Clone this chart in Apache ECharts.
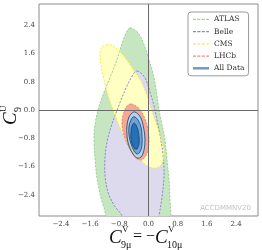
<!DOCTYPE html>
<html><head><meta charset="utf-8">
<script src="https://cdn.jsdelivr.net/npm/echarts@6/dist/echarts.min.js"></script>
<style>html,body{margin:0;padding:0;background:#fff}#c{width:262px;height:250px}</style>
</head><body><div id="c"></div>
<script>
const seriesNames = ['ATLAS', 'Belle', 'CMS', 'LHCb', 'All Data'];
const xTicks = [-2.4, -1.6, -0.8, 0, 0.8, 1.6, 2.4];
const yTicks = [-2.4, -1.6, -0.8, 0, 0.8, 1.6, 2.4];

// contour vertices [C9V=-C10V, C9U]
const ATLAS = [[-0.507,2.321],[-0.370,2.264],[-0.260,2.151],[-0.151,1.925],[-0.041,1.613],[0.041,1.330],[0.123,1.047],[0.178,0.764],[0.233,0.396],[0.288,0.000],[0.370,-0.425],[0.452,-0.849],[0.507,-1.415],[0.562,-1.981],[0.589,-2.547],[0.616,-3.0],[0.616,-3.4],[-1.164,-3.4],[-1.164,-3.0],[-1.301,-2.491],[-1.411,-1.925],[-1.466,-1.359],[-1.493,-0.849],[-1.466,-0.425],[-1.384,0.000],[-1.247,0.425],[-1.082,0.849],[-0.918,1.274],[-0.781,1.698],[-0.671,2.038],[-0.589,2.236]];
const Belle = [[-0.315,1.104],[-0.178,1.019],[-0.068,0.849],[0.041,0.509],[0.151,0.113],[0.233,-0.283],[0.315,-0.708],[0.397,-1.274],[0.425,-1.840],[0.370,-2.463],[0.288,-3.0],[0.205,-3.45],[-0.616,-3.45],[-0.726,-3.0],[-0.945,-2.689],[-1.110,-2.321],[-1.192,-1.840],[-1.192,-1.359],[-1.137,-0.906],[-1.027,-0.481],[-0.890,-0.085],[-0.753,0.283],[-0.616,0.623],[-0.479,0.906],[-0.397,1.047]];
const CMS = [[-1.164,1.840],[-1.027,1.840],[-0.863,1.727],[-0.699,1.557],[-0.534,1.330],[-0.370,1.076],[-0.205,0.821],[-0.068,0.481],[0.068,0.057],[0.205,-0.368],[0.342,-0.793],[0.425,-1.160],[0.397,-1.444],[0.288,-1.613],[0.123,-1.642],[-0.068,-1.557],[-0.260,-1.359],[-0.479,-1.076],[-0.671,-0.736],[-0.836,-0.368],[-0.973,0.000],[-1.110,0.425],[-1.219,0.849],[-1.301,1.274],[-1.329,1.613],[-1.274,1.783]];
const LHCb = [[-0.479,0.170],[-0.342,0.113],[-0.205,-0.028],[-0.096,-0.255],[-0.014,-0.538],[0.014,-0.849],[-0.014,-1.132],[-0.096,-1.330],[-0.205,-1.415],[-0.342,-1.359],[-0.479,-1.160],[-0.616,-0.877],[-0.699,-0.594],[-0.726,-0.311],[-0.671,-0.057],[-0.589,0.113]];
const AllData3 = [[-0.370,-0.057],[-0.260,-0.142],[-0.178,-0.311],[-0.123,-0.566],[-0.096,-0.849],[-0.123,-1.132],[-0.205,-1.330],[-0.315,-1.359],[-0.425,-1.245],[-0.534,-1.019],[-0.589,-0.736],[-0.589,-0.425],[-0.534,-0.198],[-0.452,-0.085]];
const AllData2 = [[-0.370,-0.198],[-0.288,-0.283],[-0.205,-0.481],[-0.178,-0.736],[-0.178,-0.991],[-0.233,-1.189],[-0.315,-1.245],[-0.397,-1.160],[-0.479,-0.962],[-0.534,-0.708],[-0.534,-0.453],[-0.479,-0.283],[-0.425,-0.198]];
const AllData1 = [[-0.397,-0.368],[-0.342,-0.425],[-0.288,-0.566],[-0.260,-0.764],[-0.260,-0.962],[-0.315,-1.104],[-0.370,-1.104],[-0.425,-1.019],[-0.479,-0.849],[-0.479,-0.623],[-0.452,-0.453]];

const chart = echarts.init(document.getElementById('c'), null, {renderer: 'canvas'});
const fmt = v => (v < 0 ? '\u2212' + Math.abs(v).toFixed(1) : v.toFixed(1));

function polySeries(name, contours, fills, strokes, dash, lw, legendColor) {
  return {
    name: name, type: 'custom', coordinateSystem: 'cartesian2d', clip: true,
    silent: true, animation: false,
    itemStyle: {color: legendColor},
    data: contours.map(c => c[0]),
    renderItem: function (params, api) {
      const i = params.dataIndex;
      const pts = contours[i].map(p => api.coord(p));
      const cs = params.coordSys;
      const base = params.seriesIndex * 10 + i;
      return {
        type: 'group',
        clipPath: {type: 'rect', shape: {x: cs.x, y: cs.y, width: cs.width, height: cs.height}},
        children: [
          {type: 'polygon', z2: base, shape: {points: pts, smooth: 0.35}, style: {fill: fills[i], stroke: null}},
          {type: 'polygon', z2: 100 + base, shape: {points: pts, smooth: 0.35}, style: {fill: null, stroke: strokes[i], lineWidth: lw, lineDash: dash}}
        ]
      };
    }
  };
}

const dashed = [2.2, 1.4];
const serif = 'DejaVu Serif';
const dashIcon = 'path://M0,0h0.01v0.01h-0.01zM0,0.6h3v1.2h-3zM4.4,0.6h3v1.2h-3zM8.8,0.6h3v1.2h-3zM13.2,0.6h2.8v1.2h-2.8zM16,2.49h0.01v0.01h-0.01z';

chart.setOption({
  animation: false,
  grid: {left: 39, top: 4, width: 219, height: 212, show: true, borderColor: '#8c8c8c', borderWidth: 1, backgroundColor: 'transparent'},
  xAxis: {type: 'value', min: -3, max: 3,
    axisLine: {show: false}, axisTick: {show: false}, splitLine: {show: false},
    axisLabel: {customValues: xTicks, formatter: fmt, fontFamily: serif, fontSize: 7, color: '#444', margin: 5}},
  yAxis: {type: 'value', min: -3, max: 3,
    axisLine: {show: false}, axisTick: {show: false}, splitLine: {show: false},
    axisLabel: {customValues: yTicks, formatter: fmt, fontFamily: serif, fontSize: 7, color: '#444', margin: 4}},
  legend: {
    orient: 'vertical', left: 188, top: 12, selectedMode: false,
    data: [
      {name: 'ATLAS', icon: dashIcon},
      {name: 'Belle', icon: dashIcon},
      {name: 'CMS', icon: dashIcon},
      {name: 'LHCb', icon: dashIcon},
      {name: 'All Data', icon: 'path://M0,0h16v2.5h-16z'}
    ],
    symbolKeepAspect: false,
    itemWidth: 16, itemHeight: 2.5, itemGap: 3.2, itemTextGap: 7,
    padding: [3, 4, 3, 5],
    backgroundColor: '#fff', borderColor: '#9a9a9a', borderWidth: 1, borderRadius: 3,
    textStyle: {fontFamily: serif, fontSize: 7.5, color: '#333', lineHeight: 9}
  },
  series: [
    polySeries('ATLAS', [ATLAS], ['#c6e6c2'], ['#8fcf88'], dashed, 0.9, '#9ad594'),
    polySeries('Belle', [Belle], ['#dcdaec'], ['#8682bf'], dashed, 0.9, '#8a86c4'),
    polySeries('CMS', [CMS], ['#ffffc4'], ['#f0ec30'], dashed, 0.9, '#f4f060'),
    polySeries('LHCb', [LHCb], ['#f5a994'], ['#ec7a6c'], dashed, 0.9, '#f08a7c'),
    polySeries('All Data', [AllData3, AllData2, AllData1], ['#b4d2ec', '#6aa4d8', '#2770b5'], ['#1d3f6e', '#1d3f6e', '#1d3f6e'], null, 0.8, '#6d9bc8'),
    {name: 'zero', type: 'line', data: [], z: 10, silent: true,
      markLine: {silent: true, symbol: ['none', 'none'], label: {show: false}, animation: false,
        lineStyle: {color: '#6a6a6a', type: 'solid', width: 1},
        data: [{xAxis: 0}, {yAxis: 0}]}}
  ],
  graphic: [
    {type: 'text', right: 11, top: 205, style: {text: 'ACCDMMNV20', font: '7px "DejaVu Sans"', fill: '#c2c2c2'}},
    {type: 'group', x: 0, y: 0, children: [
      {type: 'text', x: 109, y: 238, style: {text: 'C', font: 'italic 19px "Liberation Serif"', fill: '#111', verticalAlign: 'middle'}},
      {type: 'text', x: 122, y: 230, style: {text: 'V', font: '9px "Liberation Serif"', fill: '#111', verticalAlign: 'middle'}},
      {type: 'text', x: 121, y: 245, style: {text: '9\u03bc', font: '10px "Liberation Serif"', fill: '#111', verticalAlign: 'middle'}},
      {type: 'text', x: 133, y: 237, style: {text: '= \u2212', font: '16px "Liberation Serif"', fill: '#111', verticalAlign: 'middle'}},
      {type: 'text', x: 155, y: 238, style: {text: 'C', font: 'italic 19px "Liberation Serif"', fill: '#111', verticalAlign: 'middle'}},
      {type: 'text', x: 168, y: 230, style: {text: 'V', font: '9px "Liberation Serif"', fill: '#111', verticalAlign: 'middle'}},
      {type: 'text', x: 167, y: 245, style: {text: '10\u03bc', font: '10px "Liberation Serif"', fill: '#111', verticalAlign: 'middle'}}
    ]},
    {type: 'group', x: 11, y: 113, rotation: Math.PI / 2, children: [
      {type: 'text', x: -12, y: 0, style: {text: 'C', font: 'italic 19px "Liberation Serif"', fill: '#111', verticalAlign: 'middle'}},
      {type: 'text', x: 1, y: -7, style: {text: 'U', font: '9px "Liberation Serif"', fill: '#111', verticalAlign: 'middle'}},
      {type: 'text', x: 1, y: 7, style: {text: '9', font: '10px "Liberation Serif"', fill: '#111', verticalAlign: 'middle'}}
    ]}
  ]
});
</script></body></html>
